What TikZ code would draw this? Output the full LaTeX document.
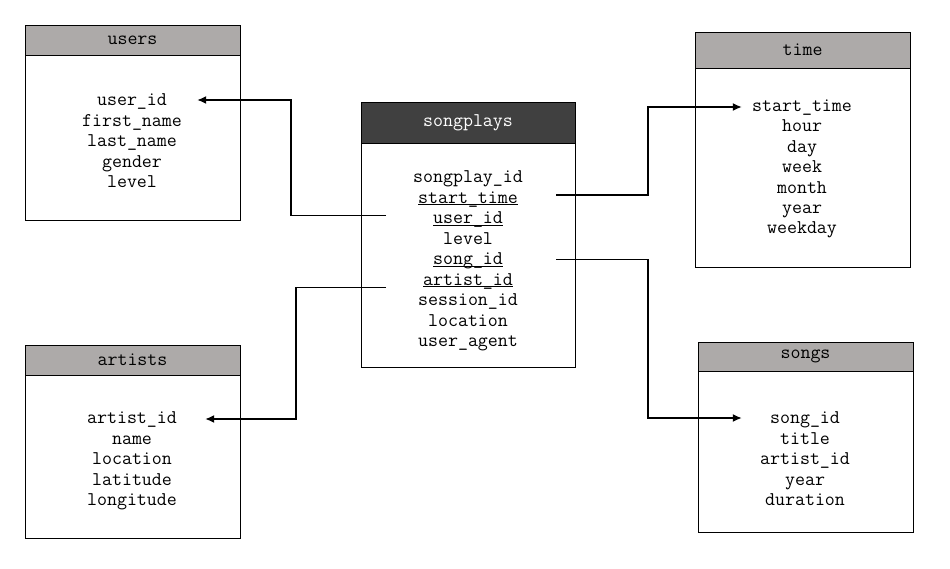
\documentclass[tikz,border=0pt]{standalone}
\usetikzlibrary{arrows.meta}

\definecolor{headgray}{HTML}{ADAAA9}
\definecolor{headdark}{HTML}{404040}

\newcommand{\keyul}[1]{\underline{\smash{#1}}}

\begin{document}
\begin{tikzpicture}[
        x=1pt, y=-1pt,
        tablebox/.style={
        draw,
        line width=0.9pt,
        fill=white,
        inner sep=0pt
      },
      tablehead/.style={
        tablebox,
        fill=headgray,
        font=\ttfamily\fontsize{19.4}{23}\selectfont
      },
      field/.style={
        inner sep=0pt,
        text height=13pt,
        text depth=4pt,
        font=\ttfamily\fontsize{19.4}{23}\selectfont
      },
      link/.style={
        line width=1.6pt,
        -{Latex[length=9pt,width=8pt]}
      }
    ]

    \useasboundingbox (0,0) rectangle (950,568);

    % tables
    \node[tablebox, minimum width=215pt, minimum height=195pt] (users) at (132.5,122.5) {};
    \node[tablehead, minimum width=215pt, minimum height=30pt] (users-h) at (132.5,40) {users};

    \node[tablebox, minimum width=214pt, minimum height=265pt] (sp) at (468,234.5) {};
    \node[tablehead, fill=headdark, text=white, minimum width=214pt, minimum height=41pt] (sp-h) at (468,122.5) {songplays};

    \node[tablebox, minimum width=215pt, minimum height=235pt] (time) at (802.5,149.5) {};
    \node[tablehead, minimum width=215pt, minimum height=36pt] (time-h) at (802.5,50) {time};

    \node[tablebox, minimum width=215pt, minimum height=193pt] (artists) at (132.5,441.5) {};
    \node[tablehead, minimum width=215pt, minimum height=30pt] (artists-h) at (132.5,360) {artists};

    \node[tablebox, minimum width=215pt, minimum height=190pt] (songs) at (805.5,437) {};
    \node[tablehead, minimum width=215pt, minimum height=29pt] (songs-h) at (805.5,356.5) {songs};

    % fields
    \foreach \f [count=\i] in {user\_id, first\_name, last\_name, gender, level}
      \node[field] (users-\i) at (132,101+20.5*\i-20.5) {\f};

    \foreach \f [count=\i] in {songplay\_id, \keyul{start\_time}, \keyul{user\_id}, level,
        \keyul{song\_id}, \keyul{artist\_id}, session\_id, location, user\_agent}
      \node[field] (sp-\i) at (468,178+20.5*\i-20.5) {\f};

    \foreach \f [count=\i] in {start\_time, hour, day, week, month, year, weekday}
      \node[field] (time-\i) at (802,107+20.4*\i-20.4) {\f};

    \foreach \f [count=\i] in {artist\_id, name, location, latitude, longitude}
      \node[field] (artists-\i) at (132,419+20.5*\i-20.5) {\f};

    \foreach \f [count=\i] in {song\_id, title, artist\_id, year, duration}
      \node[field] (songs-\i) at (805,419+20.5*\i-20.5) {\f};

    % link ends inside songplays
    \coordinate (from-user) at (386,215.5);
    \coordinate (from-artist) at (386,287.5);
    \coordinate (from-time) at (556,195);
    \coordinate (from-song) at (556,259.5);

    \draw[link] (from-user) -- ++(-95,0) |- ([xshift=30pt,yshift=1pt]users-1.east);
    \draw[link] (from-artist) -- ++(-90,0) |- ([xshift=28pt]artists-1.east);
    \draw[link] (from-time) -- ++(92,0) |- ([xshift=-10pt]time-1.west);
    \draw[link] (from-song) -- ++(92,0) |- ([xshift=-28pt,yshift=1pt]songs-1.west);

  \end{tikzpicture}
\end{document}
